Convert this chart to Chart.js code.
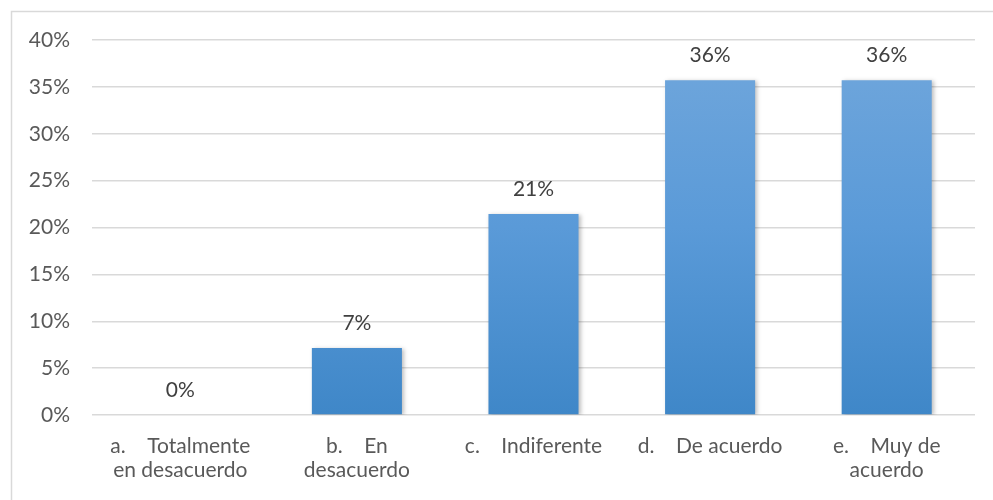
<!DOCTYPE html>
<html>
<head>
<meta charset="utf-8">
<script src="https://cdn.jsdelivr.net/npm/chart.js@4.4.0/dist/chart.umd.min.js"></script>
<style>
  html, body { margin: 0; padding: 0; background: #fff; }
  #wrap { position: relative; width: 993px; height: 500px; }
</style>
</head>
<body>
<div id="wrap"><canvas id="c" width="993" height="500"></canvas></div>
<script>
// Response categories (multi-line labels)
const categories = [
  ['a.    Totalmente', 'en desacuerdo'],
  ['b.    En', 'desacuerdo'],
  'c.    Indiferente',
  'd.    De acuerdo',
  ['e.    Muy de', 'acuerdo']
];
// Share of responses per category (%)
const percentages = [0, 7.14, 21.43, 35.71, 35.71];
// Y axis ticks (%)
const yTicks = [0, 5, 10, 15, 20, 25, 30, 35, 40];

const FONT = 'Lato, "Open Sans", sans-serif';
const FONT_SIZE = 21;
const TEXT = '#595959';
const GRID = '#d9d9d9';

// Light grey frame around the chart
const framePlugin = {
  id: 'frame',
  beforeDraw(chart) {
    const ctx = chart.ctx;
    ctx.save();
    ctx.strokeStyle = GRID;
    ctx.lineWidth = 1.5;
    ctx.strokeRect(11.5, 11.5, 1000, 1000);
    ctx.restore();
  }
};

// Soft shadow behind bars
const shadowPlugin = {
  id: 'barShadow',
  beforeDatasetsDraw(chart) {
    const ctx = chart.ctx;
    ctx.save();
    ctx.shadowColor = 'rgba(0,0,0,0.25)';
    ctx.shadowBlur = 4;
    ctx.shadowOffsetX = 2;
    ctx.shadowOffsetY = 1;
  },
  afterDatasetsDraw(chart) {
    chart.ctx.restore();
  }
};

// Value labels above each bar
const valueLabels = {
  id: 'valueLabels',
  afterDatasetsDraw(chart) {
    const ctx = chart.ctx;
    const meta = chart.getDatasetMeta(0);
    ctx.save();
    ctx.fillStyle = '#404040';
    ctx.font = FONT_SIZE + 'px ' + FONT;
    ctx.textAlign = 'center';
    ctx.textBaseline = 'middle';
    meta.data.forEach((bar, i) => {
      const v = chart.data.datasets[0].data[i];
      ctx.fillText(Math.round(v) + '%', bar.x, bar.y - 25);
    });
    ctx.restore();
  }
};

function barGradient(context) {
  const chart = context.chart;
  const area = chart.chartArea;
  if (!area) return '#5b9bd5';
  const y = chart.scales.y;
  const el = context.element;
  const top = el && isFinite(el.y) ? el.y : area.top;
  const bottom = y.getPixelForValue(0);
  const g = chart.ctx.createLinearGradient(0, top, 0, Math.max(bottom, top + 1));
  g.addColorStop(0, '#71a7dc');
  g.addColorStop(0.5, '#5a9ad8');
  g.addColorStop(1, '#3f87c8');
  return g;
}

new Chart(document.getElementById('c'), {
  type: 'bar',
  data: {
    labels: categories,
    datasets: [{
      data: percentages,
      backgroundColor: barGradient,
      borderWidth: 0,
      categoryPercentage: 1,
      barPercentage: 0.51
    }]
  },
  options: {
    responsive: false,
    animation: false,
    devicePixelRatio: 1,
    layout: { padding: { left: 0, right: 18, top: 40, bottom: 0 } },
    plugins: {
      legend: { display: false },
      tooltip: { enabled: false }
    },
    scales: {
      y: {
        min: 0,
        max: 40,
        afterBuildTicks(scale) {
          scale.ticks = yTicks.map(v => ({ value: v }));
        },
        afterFit(scale) { scale.width = 92; },
        grid: { color: GRID, lineWidth: 1.5, drawTicks: false },
        border: { display: false },
        ticks: {
          padding: 22,
          color: TEXT,
          font: { family: FONT, size: FONT_SIZE },
          callback: v => v + '%'
        }
      },
      x: {
        afterFit(scale) { scale.height = 85; },
        grid: { display: false, drawTicks: false },
        border: { display: false },
        ticks: {
          padding: 19,
          maxRotation: 0,
          autoSkip: false,
          color: TEXT,
          font: { family: FONT, size: FONT_SIZE, lineHeight: 1.15 }
        }
      }
    }
  },
  plugins: [framePlugin, shadowPlugin, valueLabels]
});
</script>
</body>
</html>
